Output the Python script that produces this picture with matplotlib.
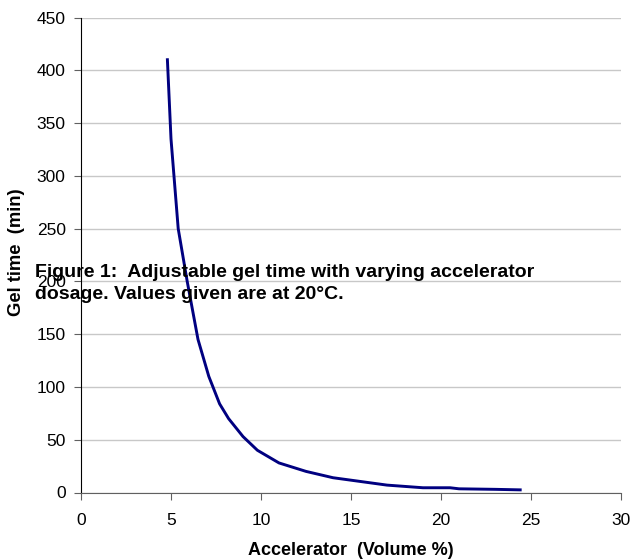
import matplotlib
matplotlib.use("Agg")
import matplotlib.pyplot as plt

accel = [4.8, 5.0, 5.4, 5.9, 6.5, 7.1, 7.7, 8.2, 9.0, 9.8, 11.0, 12.5, 14.0, 15.5, 17.0, 19.0, 20.5, 21.0, 23.0, 24.4]
gel_time = [410, 335, 250, 200, 145, 110, 84, 70, 53, 40, 28, 20, 14, 10.5, 7, 4.5, 4.5, 3.5, 3, 2.5]
x_ticks = [0, 5, 10, 15, 20, 25, 30]
y_ticks = [0, 50, 100, 150, 200, 250, 300, 350, 400, 450]

plt.rcParams['font.family'] = ['Liberation Sans', 'DejaVu Sans']

fig = plt.figure(figsize=(6.33, 5.59), dpi=100)
ax = fig.add_axes([81/633, (559-492.5)/559, (621-81)/633, (492.5-17.5)/559])

ax.plot(accel, gel_time, color='#000080', lw=2.1)
ax.set_xlim(0, 30)
ax.set_ylim(0, 450)
ax.set_xticks(x_ticks)
ax.set_yticks(y_ticks)
ax.yaxis.grid(True, color='#c8c8c8', lw=1)
ax.set_axisbelow(True)
for s in ['top', 'right']:
    ax.spines[s].set_visible(False)
ax.spines['left'].set_color('black')
ax.spines['bottom'].set_color('#606060')
ax.tick_params(axis='both', labelsize=12.5, length=5, direction='out')
ax.tick_params(axis='y', colors='#606060', labelcolor='black', pad=6)
ax.tick_params(axis='x', colors='#606060', labelcolor='black', pad=10)

ax.set_xlabel('Accelerator  (Volume %)', fontsize=13, fontweight='bold', labelpad=10)
ax.set_ylabel('Gel time  (min)', fontsize=13.3, fontweight='bold')
ax.yaxis.set_label_coords(-0.103, 0.506)

fig.text(35/633, 1-299/559, 'Figure 1:  Adjustable gel time with varying accelerator\ndosage. Values given are at 20°C.',
         fontsize=14, fontweight='bold', va='baseline', ha='left', linespacing=1.37)

fig.savefig('out.png', dpi=100)
